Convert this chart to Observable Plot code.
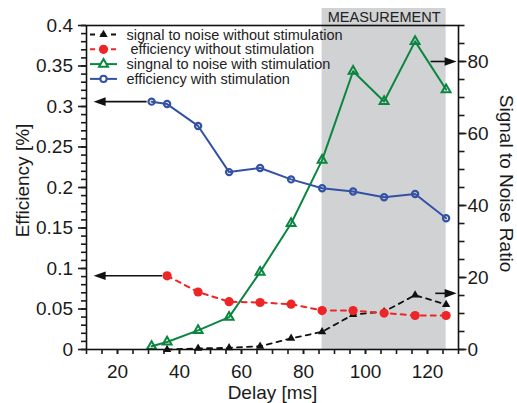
<!DOCTYPE html>
<html><head><meta charset="utf-8">
<script src="https://cdn.jsdelivr.net/npm/d3@7"></script>
<script src="https://cdn.jsdelivr.net/npm/@observablehq/plot@0.6"></script>
<style>body{margin:0;background:#fff}</style>
</head><body><div id="chart"></div>
<script>
// ---- data ----
const delays = [31, 36, 46, 56, 66, 76, 86, 96, 106, 116, 126];
const efficiencyWith = [0.306, 0.303, 0.276, 0.219, 0.224, 0.210, 0.199, 0.195, 0.188, 0.192, 0.162];
const efficiencyWithout = [null, 0.091, 0.071, 0.059, 0.058, 0.056, 0.048, 0.048, 0.045, 0.042, 0.042];
const snrWith = [0.9, 2.1, 5.3, 9.0, 21.5, 35.0, 52.6, 77.3, 68.9, 85.6, 72.2];
const snrWithout = [null, 0, 0.3, 0.45, 0.9, 3.1, 4.9, 9.7, 10.5, 15.1, 12.5];

const xTicks = [20, 40, 60, 80, 100, 120];
const leftTicks = [0, 0.05, 0.1, 0.15, 0.2, 0.25, 0.3, 0.35, 0.4];
const rightTicks = [0, 20, 40, 60, 80];
const measurementWindow = [86, 126];
const measurementLabel = "MEASUREMENT";
const legendLabels = ["signal to noise without stimulation", " efficiency without stimulation", "singnal to noise with stimulation", "efficiency with stimulation"];
const xLabel = "Delay [ms]";
const leftLabel = "Efficiency [%]";
const rightLabel = "Signal to Noise Ratio";

// annotation arrows (data units; y in the units of the axis they point to)
const arrowsLeft = [{x1: 29.4, x2: 12.3, y: 0.306}, {x1: 34.4, x2: 12.3, y: 0.091}];
const arrowsRight = [{x1: 121, x2: 129.4, y: 80}, {x1: 122.5, x2: 129.4, y: 15.6}];

// ---- scales ----
const leftMax = 0.4, rightMax = 90;
const k = leftMax / rightMax; // right-axis value -> left-axis units

const rows = delays.map((d, i) => ({
  delay: d,
  effWith: efficiencyWith[i],
  effWithout: efficiencyWithout[i],
  snrWith: snrWith[i],
  snrWithout: snrWithout[i]
}));

const BLUE = "#3452a4", RED = "#ee2526", GREEN = "#0a8640", BLACK = "#111", GRAY = "#d1d2d4";
const FONT = "'Liberation Sans', Arial, Helvetica, sans-serif";

const headShape = {
  draw(ctx, l) {
    ctx.moveTo(0, -l);
    ctx.lineTo(-4.3, 0);
    ctx.lineTo(4.3, 0);
    ctx.closePath();
  }
};

const blackRows = rows.filter(d => d.snrWithout != null);
const redRows = rows.filter(d => d.effWithout != null);
const arrowsAll = [
  ...arrowsLeft.map(a => ({...a, yy: a.y, dir: -90})),
  ...arrowsRight.map(a => ({...a, yy: a.y * k, dir: 90}))
];

const plot = Plot.plot({
  width: 517,
  height: 403,
  marginLeft: 86,
  marginRight: 59,
  marginTop: 25,
  marginBottom: 54,
  x: {domain: [10, 130]},
  y: {domain: [0, leftMax]},
  style: {fontFamily: FONT, fontSize: "19px", color: "#1a1a1a", background: "#fff"},
  marks: [
    // measurement window shading (extends above the frame for the label box)
    Plot.rect([measurementWindow], {x1: d => d[0], x2: d => d[1], fill: GRAY, insetTop: -17}),
    Plot.text([measurementWindow], {x: d => (d[0] + d[1]) / 2, frameAnchor: "top", lineAnchor: "middle", dy: -8, text: () => measurementLabel, fontSize: 14.5, fill: "#222"}),

    // signal to noise without stimulation (right axis)
    Plot.line(blackRows, {x: "delay", y: d => d.snrWithout * k, stroke: BLACK, strokeWidth: 1.8, strokeDasharray: "5,5"}),
    Plot.dot(blackRows, {x: "delay", y: d => d.snrWithout * k, symbol: "triangle", r: 3.1, fill: BLACK, stroke: "none"}),

    // efficiency without stimulation (left axis)
    Plot.line(redRows, {x: "delay", y: "effWithout", stroke: RED, strokeWidth: 2, strokeDasharray: "5,5"}),
    Plot.dot(redRows, {x: "delay", y: "effWithout", r: 4.6, fill: RED, stroke: "none"}),

    // signal to noise with stimulation (right axis)
    Plot.line(rows, {x: "delay", y: d => d.snrWith * k, stroke: GREEN, strokeWidth: 2}),
    Plot.dot(rows, {x: "delay", y: d => d.snrWith * k, symbol: "triangle", r: 3.3, fill: "none", stroke: GREEN, strokeWidth: 2}),

    // efficiency with stimulation (left axis)
    Plot.line(rows, {x: "delay", y: "effWith", stroke: BLUE, strokeWidth: 2}),
    Plot.dot(rows, {x: "delay", y: "effWith", r: 3.1, fill: "none", stroke: BLUE, strokeWidth: 2.2}),

    // annotation arrows
    Plot.link(arrowsAll, {x1: "x1", x2: d => d.x2 + (d.dir < 0 ? 3 : -3), y1: "yy", y2: "yy", stroke: BLACK, strokeWidth: 1.6}),
    Plot.vector(arrowsAll, {x: "x2", y: "yy", rotate: "dir", length: 12, anchor: "end", shape: headShape, fill: BLACK, stroke: "none"}),

    Plot.frame({stroke: "#111", strokeWidth: 1.6}),

    // bottom axis
    Plot.axisX(d3.range(10, 131, 5), {tickSize: 5, tickFormat: () => "", label: null, strokeWidth: 1.6}),
    Plot.axisX(xTicks, {tickSize: 5, tickPadding: 10, label: null, fontSize: 19, strokeWidth: 1.6}),

    // left axis
    Plot.axisY(d3.range(0, 41).map(i => i / 100), {anchor: "left", tickSize: 5, tickFormat: () => "", label: null, strokeWidth: 1.6}),
    Plot.axisY(leftTicks, {anchor: "left", tickSize: 8, tickPadding: 5.5, label: null, fontSize: 19, strokeWidth: 1.6, tickFormat: d => String(+d.toFixed(2))}),

    // right axis
    Plot.axisY(d3.range(0, 19).map(i => i * 5 * k), {anchor: "right", tickSize: 5.5, tickFormat: () => "", label: null, strokeWidth: 1.6}),
    Plot.axisY(rightTicks.map(v => v * k), {anchor: "right", tickSize: 7.5, tickPadding: 1.5, label: null, fontSize: 19, strokeWidth: 1.6, tickFormat: d => String(Math.round(d / k))}),

    // axis titles
    Plot.text([xLabel], {frameAnchor: "bottom", lineAnchor: "middle", dy: 43, text: d => d, fontSize: 19, fill: "#1a1a1a"}),
    Plot.text([leftLabel], {frameAnchor: "left", textAnchor: "middle", lineAnchor: "middle", dx: -64, dy: -7, rotate: -90, text: d => d, fontSize: 19, fill: "#1a1a1a"}),
    Plot.text([rightLabel], {frameAnchor: "right", textAnchor: "middle", lineAnchor: "middle", dx: 47.5, dy: -4, rotate: 90, text: d => d, fontSize: 19, fill: "#1a1a1a"})
  ]
});

// ---- legend (inside the frame, top-left) ----
const svg = d3.select(plot);
const lg = svg.append("g").attr("font-family", FONT).attr("font-size", 14.5).attr("fill", "#222").attr("text-anchor", "start");
const legendStyles = [
  {color: BLACK, dash: "5,5.5", symbol: d3.symbolTriangle, fill: BLACK, stroke: "none", size: Math.PI * 3.1 * 3.1},
  {color: RED, dash: "5,5.5", symbol: d3.symbolCircle, fill: RED, stroke: "none", size: Math.PI * 4.6 * 4.6},
  {color: GREEN, dash: null, symbol: d3.symbolTriangle, fill: "#fff", stroke: GREEN, size: Math.PI * 3.3 * 3.3},
  {color: BLUE, dash: null, symbol: d3.symbolCircle, fill: "#fff", stroke: BLUE, size: Math.PI * 3.1 * 3.1}
];
legendLabels.forEach((label, i) => {
  const y = 34.5 + i * 14.8;
  const s = legendStyles[i];
  const row = lg.append("g");
  row.append("line").attr("x1", 90).attr("x2", 117).attr("y1", y).attr("y2", y)
    .attr("stroke", s.color).attr("stroke-width", 2).attr("stroke-dasharray", s.dash);
  row.append("path").attr("d", d3.symbol(s.symbol, s.size)()).attr("transform", `translate(103.5,${y})`)
    .attr("fill", s.fill).attr("stroke", s.stroke).attr("stroke-width", 2);
  row.append("text").attr("x", 126.5).attr("y", y).attr("dy", "0.35em")
    .attr("text-anchor", "start").style("white-space", "pre").text(label);
});

document.getElementById("chart").appendChild(plot);
</script>
</body></html>
